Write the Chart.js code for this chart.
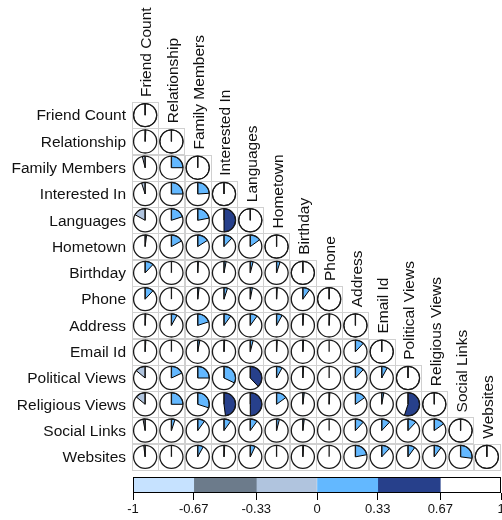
<!DOCTYPE html>
<html><head><meta charset="utf-8">
<script src="https://cdn.jsdelivr.net/npm/chart.js@4/dist/chart.umd.min.js"></script>
<style>
html,body{margin:0;padding:0;background:#fff;overflow:hidden;width:502px;height:520px}
canvas{position:absolute;left:0;top:0}
</style></head>
<body>
<canvas id="m" width="502" height="520"></canvas>
<canvas id="cb" width="520" height="520"></canvas>
<script>
// Variables (rows = columns)
const variables = ['Friend Count','Relationship','Family Members','Interested In','Languages','Hometown','Birthday','Phone','Address','Email Id','Political Views','Religious Views','Social Links','Websites'];

// Lower-triangle correlations (row i, columns 0..i-1); diagonal = 1
const rowFriendCount    = [];
const rowRelationship   = [0.01];
const rowFamilyMembers  = [-0.04, 0.25];
const rowInterestedIn   = [-0.05, 0.25, 0.24];
const rowLanguages      = [-0.17, 0.20, 0.22, 0.50];
const rowHometown       = [0.02, 0.17, 0.16, 0.12, 0.15];
const rowBirthday       = [0.12, 0.00, 0.01, 0.03, 0.04, 0.05];
const rowPhone          = [0.12, 0.00, 0.02, 0.05, 0.03, 0.01, 0.10];
const rowAddress        = [0.01, 0.08, 0.20, 0.10, 0.10, 0.08, 0.01, 0.01];
const rowEmailId        = [0.01, 0.00, 0.03, 0.01, 0.04, 0.01, 0.01, 0.00, 0.12];
const rowPoliticalViews = [-0.14, 0.18, 0.25, 0.32, 0.38, 0.08, 0.01, 0.00, 0.12, 0.08];
const rowReligiousViews = [-0.14, 0.25, 0.30, 0.48, 0.50, 0.15, 0.02, 0.01, 0.15, 0.03, 0.55];
const rowSocialLinks    = [-0.03, 0.05, 0.10, 0.10, 0.10, 0.04, 0.02, 0.00, 0.12, 0.12, 0.12, 0.15];
const rowWebsites       = [-0.02, 0.00, 0.08, 0.01, 0.07, 0.00, 0.01, 0.00, 0.22, 0.12, 0.10, 0.10, 0.27];

// Colour bins over [-1, 1]
const binColors = ['#C6E2FF','#6C7B8B','#B0C4DE','#63B8FF','#27408B','#FFFFFF'];
const colorbarTicks = [-1, -0.67, -0.33, 0, 0.33, 0.67, 1];
const colorbarTickLabels = ['-1','-0.67','-0.33','0','0.33','0.67','1'];

const lowerRows = [rowFriendCount,rowRelationship,rowFamilyMembers,rowInterestedIn,rowLanguages,rowHometown,rowBirthday,rowPhone,rowAddress,rowEmailId,rowPoliticalViews,rowReligiousViews,rowSocialLinks,rowWebsites];
const points = [];
variables.forEach((name,i)=>{
  for(let j=0;j<=i;j++){ points.push({x:j, y:i, v: j===i ? 1 : lowerRows[i][j]}); }
});

function colorFor(v){
  let k = Math.floor((v+1)/2*binColors.length);
  if(k<0) k=0; if(k>binColors.length-1) k=binColors.length-1;
  return binColors[k];
}

const FONT = '"Liberation Sans", Arial, sans-serif';

const piePlugin = {
  id:'pies',
  afterDatasetsDraw(chart){
    const {ctx, scales:{x,y}} = chart;
    const cw = Math.abs(x.getPixelForValue(1)-x.getPixelForValue(0));
    const ch = Math.abs(y.getPixelForValue(1)-y.getPixelForValue(0));
    ctx.save();
    // cell grid
    ctx.strokeStyle='#d0d0d0'; ctx.lineWidth=1;
    points.forEach(p=>{
      const cx=x.getPixelForValue(p.x), cy=y.getPixelForValue(p.y);
      ctx.strokeRect(Math.round(cx-cw/2)+0.5, Math.round(cy-ch/2)+0.5, Math.round(cw), Math.round(ch));
    });
    const r = Math.min(cw,ch)*0.44;
    points.forEach(p=>{
      const cx=x.getPixelForValue(p.x), cy=y.getPixelForValue(p.y);
      ctx.beginPath(); ctx.arc(cx,cy,r,0,2*Math.PI); ctx.fillStyle='#fff'; ctx.fill();
      const v=p.v, start=-Math.PI/2, end=start+v*2*Math.PI;
      if(Math.abs(v)>0.001){
        ctx.beginPath(); ctx.moveTo(cx,cy); ctx.arc(cx,cy,r,start,end,v<0); ctx.closePath();
        ctx.fillStyle=colorFor(v); ctx.fill();
        ctx.strokeStyle='#000'; ctx.lineWidth=1; ctx.stroke();
      }
      ctx.beginPath(); ctx.arc(cx,cy,r,0,2*Math.PI); ctx.strokeStyle='#1a1a1a'; ctx.lineWidth=1.3; ctx.stroke();
      ctx.beginPath(); ctx.moveTo(cx,cy); ctx.lineTo(cx,cy-r); ctx.lineWidth=1.3; ctx.stroke();
    });
    // labels
    ctx.font='15.5px '+FONT; ctx.fillStyle='#111';
    ctx.textAlign='right'; ctx.textBaseline='middle';
    variables.forEach((name,i)=>{
      ctx.fillText(name, x.getPixelForValue(0)-cw/2-6, y.getPixelForValue(i)+1);
    });
    variables.forEach((name,j)=>{
      const cx=x.getPixelForValue(j)+2, top=y.getPixelForValue(j)-ch/2-5;
      ctx.save(); ctx.translate(cx,top); ctx.rotate(-Math.PI/2);
      ctx.textAlign='left'; ctx.textBaseline='middle';
      ctx.fillText(name,0,0); ctx.restore();
    });
    ctx.restore();
  }
};

new Chart(document.getElementById('m'), {
  type:'scatter',
  data:{datasets:[{data:points, pointRadius:0, pointHoverRadius:0}]},
  options:{
    responsive:false, animation:false, events:[],
    layout:{padding:{left:132,right:2,top:102,bottom:50}},
    plugins:{legend:{display:false},tooltip:{enabled:false}},
    scales:{
      x:{type:'linear',min:-0.5,max:13.5,display:false},
      y:{type:'linear',min:-0.5,max:13.5,reverse:true,display:false}
    }
  },
  plugins:[piePlugin]
});

const borderPlugin = {
  id:'cbborder',
  afterDatasetsDraw(chart){
    const {ctx, chartArea:a} = chart;
    ctx.save(); ctx.strokeStyle='#000'; ctx.lineWidth=1;
    ctx.strokeRect(Math.round(a.left)+0.5, Math.round(a.top)+0.5, Math.round(a.right-a.left)-1, Math.round(a.bottom-a.top)-1);
    ctx.restore();
  }
};

new Chart(document.getElementById('cb'), {
  type:'bar',
  data:{
    labels:[''],
    datasets: binColors.map((c,k)=>({
      data:[[colorbarTicks[k], colorbarTicks[k+1]]],
      backgroundColor:c, borderWidth:0, grouped:false,
      barPercentage:1, categoryPercentage:1
    }))
  },
  options:{
    indexAxis:'y', responsive:false, animation:false, events:[],
    layout:{padding:{left:133,right:19,top:477,bottom:0}},
    plugins:{legend:{display:false},tooltip:{enabled:false}},
    scales:{
      x:{type:'linear',min:-1,max:1,
        afterBuildTicks:s=>{ s.ticks = colorbarTicks.map(v=>({value:v})); },
        afterFit:s=>{ s.height = 27; },
        ticks:{callback:(v,i)=>colorbarTickLabels[i], autoSkip:false, maxRotation:0, padding:2,
               color:'#111', font:{size:13, family:FONT}},
        grid:{drawOnChartArea:false, drawTicks:true, tickLength:7, color:'#000'},
        border:{display:false}
      },
      y:{display:false}
    }
  },
  plugins:[borderPlugin]
});
</script>
</body></html>
